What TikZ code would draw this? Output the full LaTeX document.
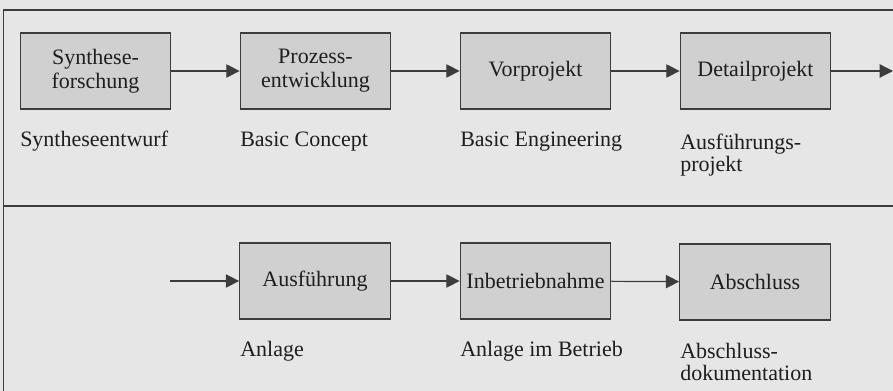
\documentclass[tikz,border=0pt]{standalone}
\usepackage{fontspec}
\setmainfont{Liberation Serif}
\usetikzlibrary{arrows.meta}
\definecolor{bggray}{HTML}{E6E6E6}
\definecolor{boxgray}{HTML}{D0D0D0}
\definecolor{linegray}{HTML}{3C3C3C}
\definecolor{ink}{HTML}{1E1E1E}
\begin{document}
\begin{tikzpicture}[x=0.75pt,y=-0.75pt,
phase/.style={draw=linegray, fill=boxgray, line width=0.8pt, minimum width=113pt, minimum height=57pt, inner sep=0pt, align=center, text=ink, font=\fontsize{16.5}{18}\selectfont},
note/.style={anchor=base west, inner sep=0pt, align=left, text=ink, font=\fontsize{16.5}{17}\selectfont},
arrow/.style={-{Triangle[length=10pt,width=10pt]}, draw=linegray, fill=linegray, line width=0.9pt},
frame/.style={draw=linegray, line width=0.9pt}
]
\fill[bggray] (0,0) rectangle (893,391);
\useasboundingbox (0,0) rectangle (893,391);
% Rahmen
\draw[frame] (893,10) -- (3.5,10) -- (3.5,391);
\draw[frame] (3.5,206) -- (893,206);
% obere Reihe
\node[phase] (syn) at (95.5,71) {Synthese-\\forschung};
\node[phase] (proz) at (315.5,71) {Prozess-\\entwicklung};
\node[phase] (vor) at (535.5,71) {Vorprojekt};
\node[phase] (det) at (755.5,71) {Detailprojekt};
\coordinate (weiter) at (893,71);
\draw[arrow] (syn) -- (proz);
\draw[arrow] (proz) -- (vor);
\draw[arrow] (vor) -- (det);
\draw[arrow] (det) -- (weiter);
\node[note] (syn-e) at (20,147) {Syntheseentwurf};
\node[note] (proz-e) at (240,147) {Basic Concept};
\node[note] (vor-e) at (460,147) {Basic Engineering};
\node[note] (det-e) at (680,172) {Ausführungs-\\projekt};
% untere Reihe
\coordinate (von) at (170,281);
\node[phase] (ausf) at (315,281) {Ausführung};
\node[phase] (inbe) at (535.5,281) {Inbetriebnahme};
\node[phase] (absch) at (755,282) {Abschluss};
\draw[arrow] (von) -- (ausf);
\draw[arrow] (ausf) -- (inbe);
\draw[arrow] (inbe) -- (absch);
\node[note] (ausf-e) at (240,357) {Anlage};
\node[note] (inbe-e) at (460,357) {Anlage im Betrieb};
\node[note] (absch-e) at (680,381) {Abschluss-\\dokumentation};
\end{tikzpicture}
\end{document}
